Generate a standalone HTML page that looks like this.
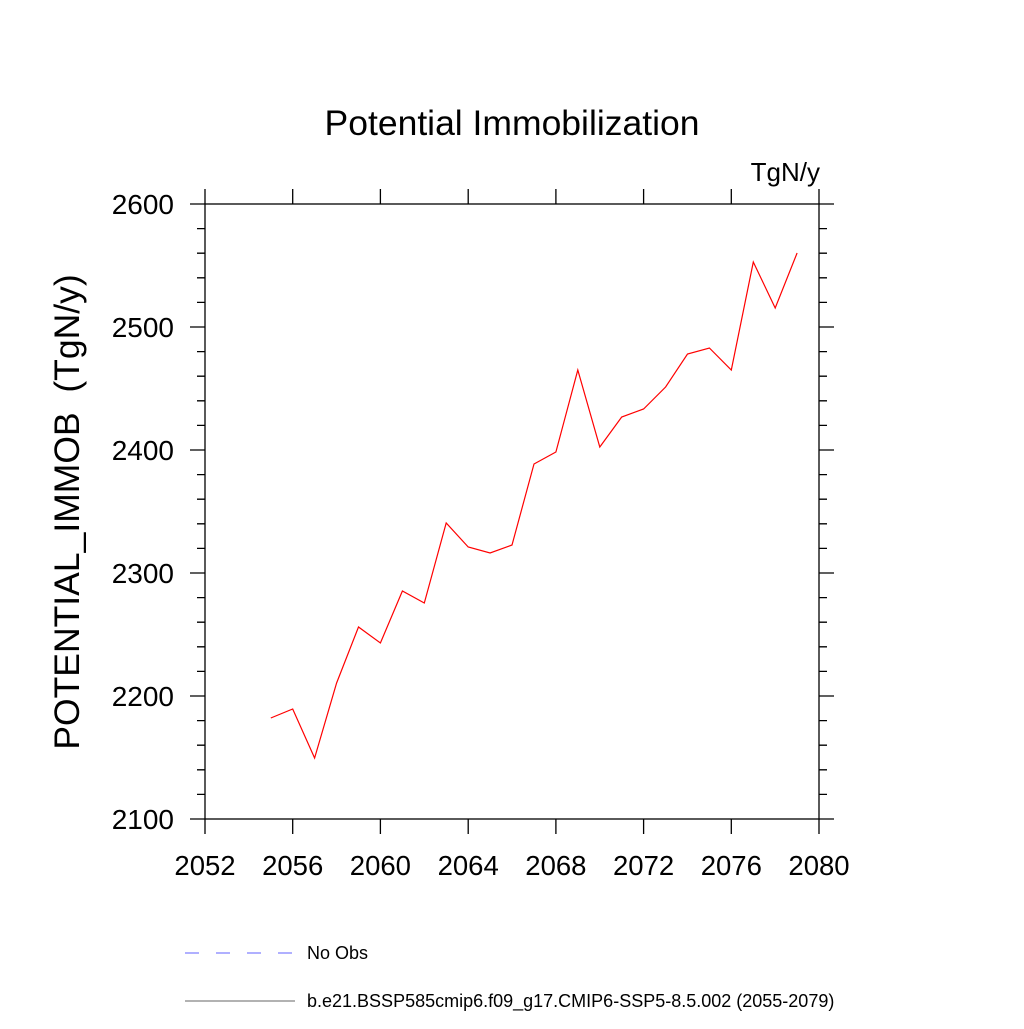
<!DOCTYPE html>
<html><head><meta charset="utf-8"><style>body{margin:0;background:#fff}</style></head><body>
<svg width="1024" height="1024" xmlns="http://www.w3.org/2000/svg" font-family="Liberation Sans, sans-serif">
<rect width="1024" height="1024" fill="#fff"/>
<text x="512" y="135" font-size="35.5" text-anchor="middle">Potential Immobilization</text>
<text x="820" y="181" font-size="26" text-anchor="end">TgN/y</text>
<g stroke="#000" stroke-width="1.3" fill="none">
<rect x="205" y="204" width="614" height="615"/>
<path d="M205 819v15M292.7 819v15M380.4 819v15M468.2 819v15M555.9 819v15M643.6 819v15M731.3 819v15M819 819v15
M205 204v-15M292.7 204v-15M380.4 204v-15M468.2 204v-15M555.9 204v-15M643.6 204v-15M731.3 204v-15M819 204v-15"/>
<path d="M205 204h-15M205 327h-15M205 450h-15M205 573h-15M205 696h-15M205 819h-15
M819 204h15M819 327h15M819 450h15M819 573h15M819 696h15M819 819h15"/>
<path d="M205 228.6h-8M205 253.2h-8M205 277.8h-8M205 302.4h-8M205 351.6h-8M205 376.2h-8M205 400.8h-8M205 425.4h-8M205 474.6h-8M205 499.2h-8M205 523.8h-8M205 548.4h-8M205 597.6h-8M205 622.2h-8M205 646.8h-8M205 671.4h-8M205 720.6h-8M205 745.2h-8M205 769.8h-8M205 794.4h-8
M819 228.6h8M819 253.2h8M819 277.8h8M819 302.4h8M819 351.6h8M819 376.2h8M819 400.8h8M819 425.4h8M819 474.6h8M819 499.2h8M819 523.8h8M819 548.4h8M819 597.6h8M819 622.2h8M819 646.8h8M819 671.4h8M819 720.6h8M819 745.2h8M819 769.8h8M819 794.4h8"/>
</g>
<g font-size="28" text-anchor="end">
<text x="174" y="214">2600</text><text x="174" y="337">2500</text><text x="174" y="460">2400</text>
<text x="174" y="583">2300</text><text x="174" y="706">2200</text><text x="174" y="829">2100</text>
</g>
<g font-size="27.5" text-anchor="middle">
<text x="205" y="875">2052</text><text x="292.7" y="875">2056</text><text x="380.4" y="875">2060</text>
<text x="468.2" y="875">2064</text><text x="555.9" y="875">2068</text><text x="643.6" y="875">2072</text>
<text x="731.3" y="875">2076</text><text x="819" y="875">2080</text>
</g>
<text transform="translate(79,512) rotate(-90)" font-size="35.5" text-anchor="middle">POTENTIAL_IMMOB&#160;&#160;(TgN/y)</text>
<polyline fill="none" stroke="#f00" stroke-width="1.2" points="270.8,718 292.7,709 314.6,758 336.6,683 358.5,627 380.4,643 402.4,591 424.3,603 446.2,523 468.2,547 490.1,553 512,545 534,464 555.9,452 577.8,370 599.8,447 621.7,417 643.6,409 665.6,387 687.5,354 709.4,348 731.3,370 753.3,262 775.2,308 797.1,253"/>
<line x1="185" y1="953" x2="295" y2="953" stroke="#6060ff" stroke-width="1" stroke-dasharray="14,17"/>
<text x="307" y="959" font-size="18">No Obs</text>
<line x1="185" y1="1001" x2="295" y2="1001" stroke="#666" stroke-width="1"/>
<text x="307" y="1007" font-size="18">b.e21.BSSP585cmip6.f09_g17.CMIP6-SSP5-8.5.002 (2055-2079)</text>
</svg>
</body></html>
